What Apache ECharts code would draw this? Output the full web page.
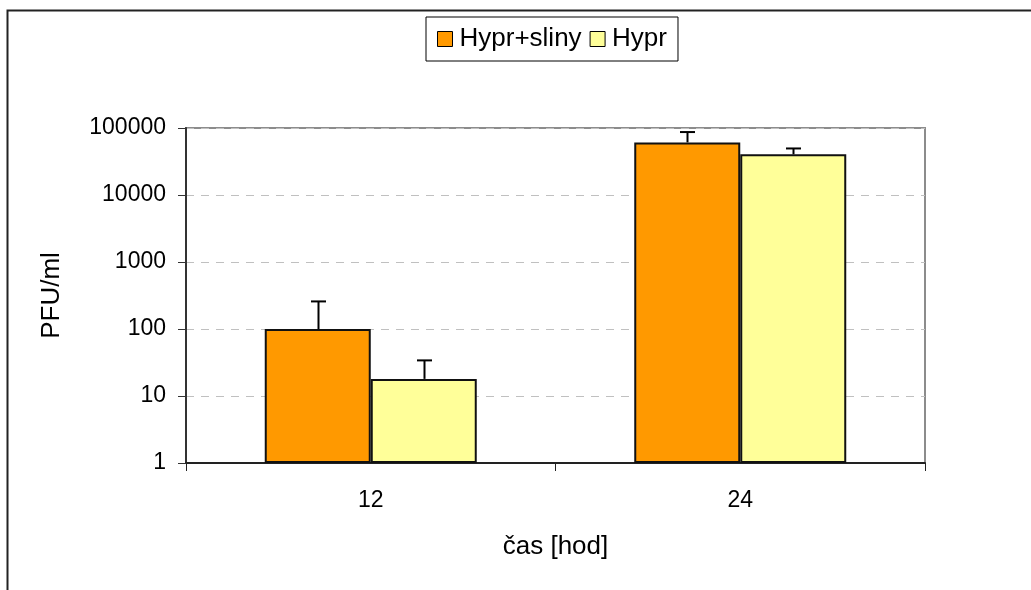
<!DOCTYPE html>
<html><head><meta charset="utf-8">
<script src="https://cdn.jsdelivr.net/npm/echarts@6/dist/echarts.min.js"></script>
<style>html,body{margin:0;padding:0;background:#fff}#c{width:1031px;height:590px}</style>
</head><body><div id="c"></div>
<script>
const categories = ['12', '24'];
const seriesNames = ['Hypr+sliny', 'Hypr'];
const hyprSliny = [100, 61000];
const hyprSlinyErrTop = [258, 87000];
const hypr = [18, 40500];
const hyprErrTop = [34, 49500];
const yAxisName = 'PFU/ml';
const xAxisName = 'čas [hod]';

const chart = echarts.init(document.getElementById('c'), null, {renderer: 'canvas'});
const FONT = 'Liberation Sans, Arial, sans-serif';
const FS = 23;
const NFS = 26;
const BW = 106;

function errSeries(idx, tops, offset) {
  const vals = idx === 0 ? hyprSliny : hypr;
  return {
    type: 'custom', name: seriesNames[idx] + ' err', silent: true, z: 5,
    data: tops.map((v, i) => [i, v]),
    renderItem: function (params, api) {
      const i = api.value(0);
      const top = api.coord([i, api.value(1)]);
      const base = api.coord([i, vals[i]]);
      const x = Math.round(top[0] + offset) + 0.5;
      return {
        type: 'group', children: [
          {type: 'line', shape: {x1: x, y1: base[1], x2: x, y2: top[1]}, style: {stroke: '#000', lineWidth: 2}},
          {type: 'line', shape: {x1: x - 7.5, y1: top[1], x2: x + 7.5, y2: top[1]}, style: {stroke: '#000', lineWidth: 2}}
        ]
      };
    }
  };
}

chart.setOption({
  animation: false,
  backgroundColor: '#fff',
  graphic: [{type: 'rect', shape: {x: 7.5, y: 10.5, width: 1100, height: 700}, style: {fill: 'none', stroke: '#222', lineWidth: 2}, silent: true}],
  legend: {
    top: 17, left: 426,
    data: seriesNames,
    icon: 'rect', itemWidth: 15, itemHeight: 15, itemGap: 8,
    itemStyle: {borderColor: '#000', borderWidth: 1},
    borderColor: '#000', borderWidth: 1, padding: [9, 11, 9, 11],
    textStyle: {fontFamily: FONT, fontSize: 26, color: '#000', padding: [0, 0, 0, 2]}
  },
  grid: {left: 186, right: 106, top: 128, bottom: 127, show: true, borderColor: '#8c8c8c', borderWidth: 2, backgroundColor: '#fff'},
  xAxis: {
    type: 'category', data: categories,
    name: xAxisName, nameLocation: 'middle', nameGap: 71,
    nameTextStyle: {fontFamily: FONT, fontSize: NFS, color: '#000'},
    axisLine: {lineStyle: {color: '#222', width: 2}},
    axisTick: {show: true, length: 8, lineStyle: {color: '#222', width: 1}},
    axisLabel: {fontFamily: FONT, fontSize: FS, color: '#000', margin: 26}
  },
  yAxis: {
    type: 'log', logBase: 10, min: 1, max: 100000,
    name: yAxisName, nameLocation: 'middle', nameGap: 121, nameRotate: 90,
    nameTextStyle: {fontFamily: FONT, fontSize: NFS, color: '#000'},
    axisLine: {show: true, lineStyle: {color: '#333', width: 2}},
    axisTick: {show: true, inside: false, length: 8, lineStyle: {color: '#333'}},
    axisLabel: {fontFamily: FONT, fontSize: FS, color: '#000', margin: 20, formatter: v => String(Math.round(v))},
    splitLine: {show: true, lineStyle: {color: '#c0c0c0', type: [8, 7], width: 1}},
    minorTick: {show: false}
  },
  series: [
    {type: 'bar', name: seriesNames[0], data: hyprSliny, barWidth: BW, barGap: '0%',
     itemStyle: {color: '#FF9900', borderColor: '#111', borderWidth: 2}},
    {type: 'bar', name: seriesNames[1], data: hypr, barWidth: BW, barGap: '0%',
     itemStyle: {color: '#FFFF99', borderColor: '#111', borderWidth: 2}},
    errSeries(0, hyprSlinyErrTop, -BW / 2),
    errSeries(1, hyprErrTop, BW / 2)
  ]
});
</script></body></html>
